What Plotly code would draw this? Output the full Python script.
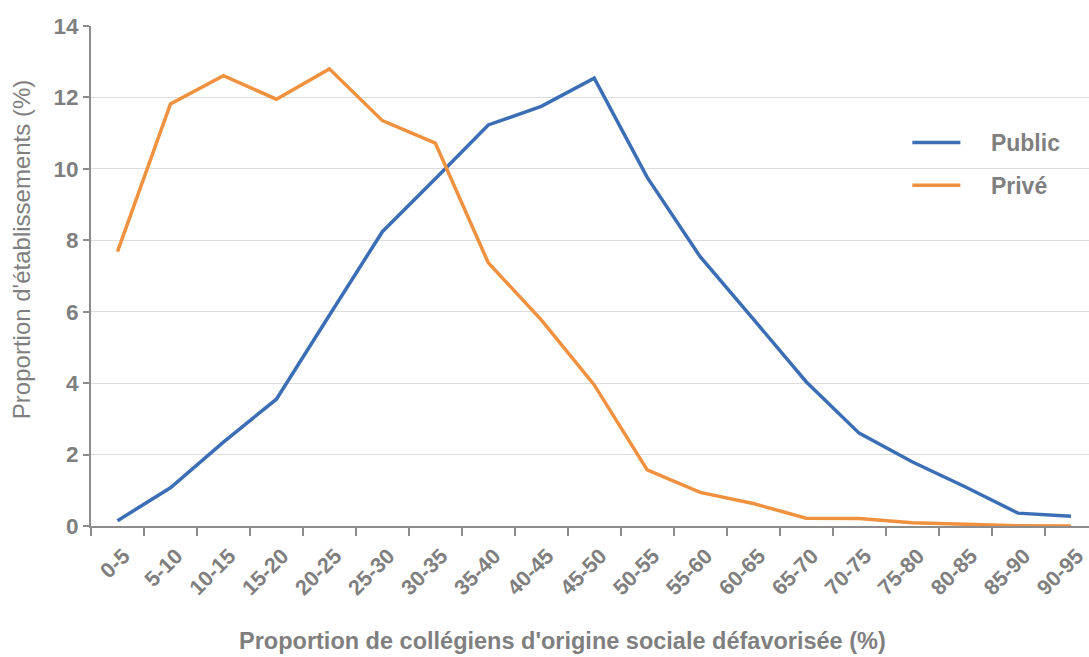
import plotly.graph_objects as go

# Share of schools by proportion of disadvantaged pupils (5-point bins)
categories = ["0-5", "5-10", "10-15", "15-20", "20-25", "25-30", "30-35", "35-40",
              "40-45", "45-50", "50-55", "55-60", "60-65", "65-70", "70-75", "75-80",
              "80-85", "85-90", "90-95"]

public = [0.15, 1.07, 2.35, 3.55, 5.9, 8.24, 9.72, 11.23, 11.75, 12.54,
          9.76, 7.54, 5.8, 4.04, 2.6, 1.8, 1.1, 0.36, 0.27]

prive = [7.68, 11.82, 12.61, 11.95, 12.8, 11.35, 10.72, 7.37, 5.77, 3.95,
         1.57, 0.94, 0.63, 0.22, 0.21, 0.09, 0.05, 0.01, 0.0]

y_ticks = [0, 2, 4, 6, 8, 10, 12, 14]

x_title = "Proportion de collégiens d'origine sociale défavorisée (%)"
y_title = "Proportion d'établissements (%)"

BLUE = "#3b6eb5"
ORANGE = "#f0913f"
TEXT = "#7f7f7f"
AXIS = "#8c8c8c"
GRID = "#dcdcdc"
FONT = "Liberation Sans, Arial, sans-serif"
PAD = "\u00a0" * 4  # gap between legend swatch and label

fig = go.Figure()
fig.add_trace(go.Scatter(x=categories, y=public, mode="lines", name=PAD + "Public",
                         legendgroup="a",
                         line=dict(color=BLUE, width=3.5)))
fig.add_trace(go.Scatter(x=categories, y=prive, mode="lines", name=PAD + "Privé",
                         legendgroup="b",
                         line=dict(color=ORANGE, width=3.5)))

# white legend panel interrupting the gridlines
fig.add_shape(type="rect", xref="paper", yref="paper",
              x0=0.748, x1=1.0, y0=0.60, y1=0.83,
              fillcolor="white", line=dict(width=0), layer="between")

# axis titles
fig.add_annotation(text=x_title, xref="paper", yref="paper",
                   x=0.472, y=-0.230, xanchor="center", yanchor="middle",
                   showarrow=False,
                   font=dict(family=FONT, size=23.5, color=TEXT, weight="bold"))
fig.add_annotation(text=y_title, xref="paper", yref="paper",
                   x=-0.069, y=0.552, xanchor="center", yanchor="middle",
                   textangle=-90, showarrow=False,
                   font=dict(family=FONT, size=24, color=TEXT))

fig.update_layout(
    width=1089, height=657,
    margin=dict(l=91, r=0, t=26, b=131),
    paper_bgcolor="white", plot_bgcolor="white",
    font=dict(family=FONT, color=TEXT),
    showlegend=True,
    legend=dict(x=0.818, y=0.81, xanchor="left", yanchor="top",
                bgcolor="rgba(0,0,0,0)", borderwidth=0,
                tracegroupgap=10, itemwidth=48,
                font=dict(family=FONT, size=23, color=TEXT, weight="bold")),
    xaxis=dict(
        type="category",
        range=[-0.5, 18.34],
        showline=True, linecolor=AXIS, linewidth=2,
        ticks="outside", tickson="boundaries", ticklen=8, tickwidth=2, tickcolor=AXIS,
        tickangle=-45, ticklabelstandoff=7, ticklabelshift=6,
        tickfont=dict(family=FONT, size=21.5, color=TEXT, weight="bold"),
        showgrid=False, zeroline=False,
    ),
    yaxis=dict(
        range=[0, 14],
        tickvals=y_ticks,
        showline=True, linecolor=AXIS, linewidth=2,
        ticks="outside", ticklen=6, tickwidth=2, tickcolor=AXIS,
        tickfont=dict(family=FONT, size=22.5, color=TEXT, weight="bold"),
        showgrid=True, gridcolor=GRID, gridwidth=1,
        zeroline=False,
    ),
)

fig.write_html("out.html")
